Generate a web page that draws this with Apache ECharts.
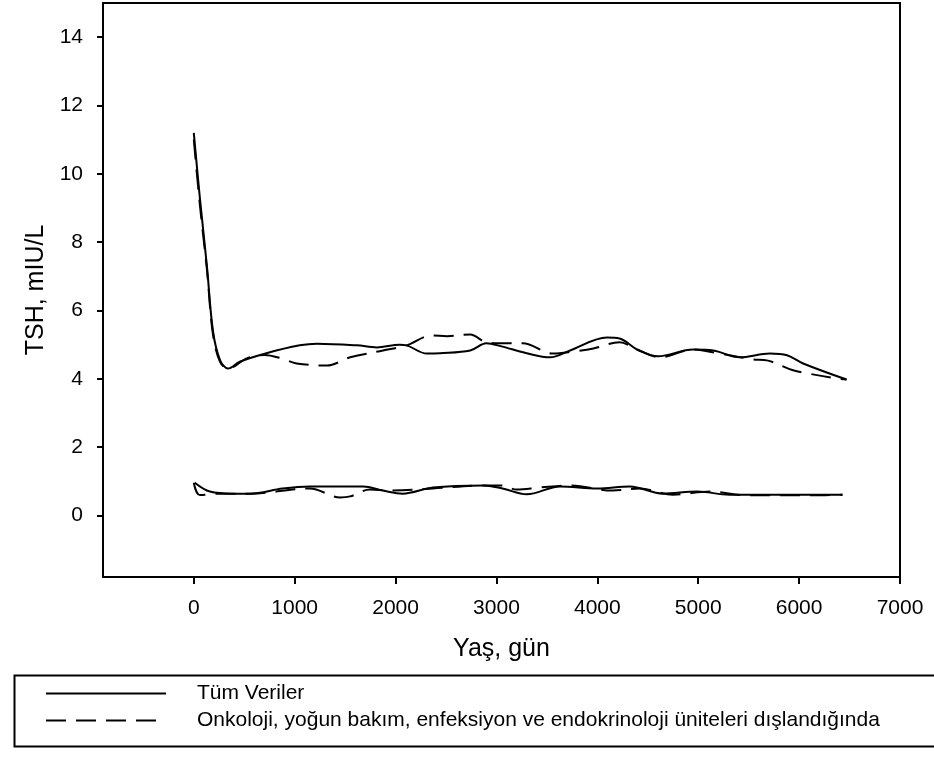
<!DOCTYPE html>
<html>
<head>
<meta charset="utf-8">
<script src="https://cdn.jsdelivr.net/npm/echarts@6/dist/echarts.min.js"></script>
<style>html,body{margin:0;padding:0;background:#fff}#c{width:934px;height:758px}</style>
</head>
<body>
<div id="c"></div>
<script>
// Data
const seriesNames = ['Tüm Veriler', 'Onkoloji, yoğun bakım, enfeksiyon ve endokrinoloji üniteleri dışlandığında'];
const xTicks = [0, 1000, 2000, 3000, 4000, 5000, 6000, 7000];
const yTicks = [0, 2, 4, 6, 8, 10, 12, 14];

const upperSolidDays = [0, 60, 130, 190, 260, 340, 456, 720, 1050, 1220, 1616, 1814, 2040, 2110, 2310, 2440, 2740, 2900, 3050, 3300, 3530, 3730, 4095, 4220, 4400, 4600, 4950, 5150, 5410, 5710, 5880, 6040, 6470];
const upperSolidTSH = [11.2, 9.3, 7.3, 5.4, 4.55, 4.3, 4.5, 4.75, 4.98, 5.03, 4.98, 4.92, 5.0, 4.98, 4.74, 4.75, 4.83, 5.04, 4.95, 4.75, 4.63, 4.83, 5.21, 5.18, 4.85, 4.66, 4.86, 4.83, 4.63, 4.74, 4.69, 4.45, 3.98];

const upperDashedDays = [0, 60, 130, 190, 260, 340, 525, 700, 870, 1020, 1320, 1550, 1875, 2110, 2360, 2510, 2740, 2900, 3100, 3260, 3560, 3760, 3960, 4220, 4400, 4620, 4950, 5210, 5540, 5680, 5940, 6080, 6375, 6470];
const upperDashedTSH = [11.0, 9.1, 7.2, 5.3, 4.5, 4.3, 4.6, 4.7, 4.6, 4.45, 4.39, 4.63, 4.83, 4.98, 5.27, 5.25, 5.3, 5.07, 5.04, 5.04, 4.74, 4.8, 4.89, 5.07, 4.85, 4.63, 4.86, 4.74, 4.57, 4.54, 4.25, 4.16, 4.01, 3.98];

const lowerSolidDays = [10, 160, 390, 555, 880, 1150, 1680, 1875, 2070, 2370, 2870, 3060, 3300, 3630, 4000, 4320, 4650, 4990, 5310, 5700, 6430];
const lowerSolidTSH = [0.96, 0.7, 0.64, 0.64, 0.79, 0.85, 0.85, 0.73, 0.64, 0.82, 0.88, 0.79, 0.62, 0.85, 0.79, 0.85, 0.64, 0.7, 0.61, 0.61, 0.61];

const lowerDashedDays = [0, 60, 250, 555, 1150, 1450, 1550, 1745, 1970, 2370, 2870, 3050, 3200, 3430, 3730, 4150, 4420, 4750, 5120, 5480, 6140, 6430];
const lowerDashedTSH = [0.96, 0.6, 0.64, 0.64, 0.79, 0.53, 0.56, 0.76, 0.73, 0.79, 0.88, 0.88, 0.76, 0.82, 0.88, 0.73, 0.79, 0.61, 0.70, 0.59, 0.59, 0.61];

const pairs = (xs, ys) => xs.map((x, i) => [x, ys[i]]);
const FONT = '"Liberation Sans", Arial, sans-serif';
const dash = [20, 10];

function lineSeries(name, xs, ys, dashed) {
  return {
    name: name, type: 'line', data: pairs(xs, ys), smooth: 0.35,
    symbol: 'none', showSymbol: false,
    lineStyle: { color: '#000', width: 2, type: dashed ? dash : 'solid' },
    itemStyle: { color: '#000' }, emphasis: { disabled: true }, animation: false
  };
}

const chart = echarts.init(document.getElementById('c'), null, { renderer: 'canvas' });
chart.setOption({
  backgroundColor: '#fff',
  animation: false,
  grid: { left: 103, right: 34, top: 3, bottom: 181, show: true, borderColor: '#000', borderWidth: 2, backgroundColor: 'transparent' },
  xAxis: {
    type: 'value', min: -900, max: 7000,
    name: 'Yaş, gün', nameLocation: 'middle', nameGap: 60,
    nameTextStyle: { fontFamily: FONT, fontSize: 25, color: '#000' },
    axisLine: { show: true, onZero: false, lineStyle: { color: '#000', width: 2 } },
    axisTick: { show: true, length: 7, lineStyle: { color: '#000', width: 2 }, customValues: xTicks },
    axisLabel: { fontFamily: FONT, fontSize: 21, color: '#000', margin: 21, customValues: xTicks, formatter: v => String(v) },
    splitLine: { show: false }
  },
  yAxis: {
    type: 'value', min: -1.8, max: 15,
    name: 'TSH, mIU/L', nameLocation: 'middle', nameGap: 48,
    nameTextStyle: { fontFamily: FONT, fontSize: 25, color: '#000' },
    axisLine: { show: true, onZero: false, lineStyle: { color: '#000', width: 2 } },
    axisTick: { show: true, length: 6, lineStyle: { color: '#000', width: 2 }, customValues: yTicks },
    axisLabel: { fontFamily: FONT, fontSize: 21, color: '#000', margin: 20, customValues: yTicks, formatter: v => String(v) },
    splitLine: { show: false }
  },
  legend: {
    data: seriesNames, orient: 'vertical', left: 40, top: 678,
    itemWidth: 120, itemHeight: 18, itemGap: 6,
    selectedMode: false,
    itemStyle: { color: 'transparent', borderWidth: 0, opacity: 0 },
    textStyle: { fontFamily: FONT, fontSize: 21, color: '#000', padding: [0, 0, 0, 26] }
  },
  graphic: [{
    type: 'rect', left: 12, top: 673, silent: true,
    shape: { width: 940, height: 71 },
    style: { fill: 'none', stroke: '#000', lineWidth: 2 }
  }],
  series: [
    lineSeries(seriesNames[0], upperSolidDays, upperSolidTSH, false),
    lineSeries(seriesNames[0], lowerSolidDays, lowerSolidTSH, false),
    lineSeries(seriesNames[1], upperDashedDays, upperDashedTSH, true),
    lineSeries(seriesNames[1], lowerDashedDays, lowerDashedTSH, true)
  ]
});
</script>
</body>
</html>
